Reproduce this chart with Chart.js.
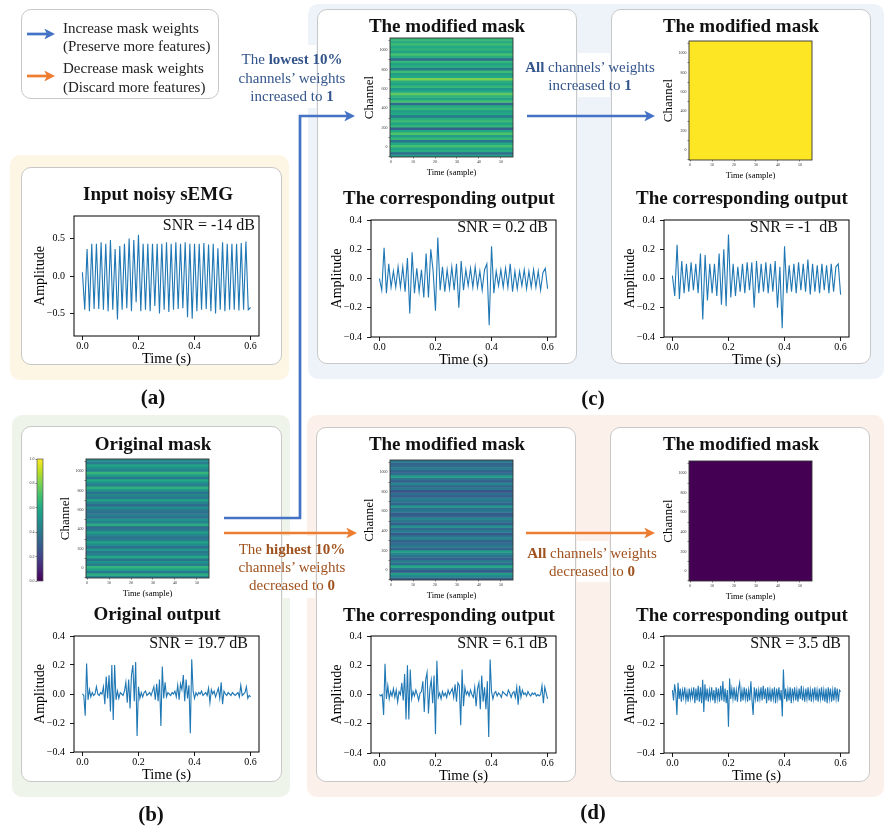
<!DOCTYPE html>
<html>
<head>
<meta charset="utf-8">
<script src="https://cdn.jsdelivr.net/npm/chart.js@4.4.1/dist/chart.umd.min.js"></script>
<style>
body { margin: 0; width: 886px; height: 829px; position: relative; overflow: hidden; background: #fff;
       font-family: "Liberation Serif", "Times New Roman", serif; color: #111; }
.abs { position: absolute; }
.panel { position: absolute; border-radius: 10px; }
.box { position: absolute; background: #fff; border: 1px solid #c8c8c8; border-radius: 10px; box-sizing: border-box; }
.patch { position: absolute; background: #fff; }
.t { position: absolute; transform: translate(-50%, -50%); white-space: nowrap; line-height: 1; }
.r { position: absolute; transform: translate(-100%, -50%); white-space: nowrap; line-height: 1; font-size: 16px; }
.title { font-weight: bold; font-size: 19px; }
.lab { font-weight: bold; font-size: 21px; }
.leg { position: absolute; font-size: 15px; white-space: nowrap; line-height: 1; transform: translateY(-50%); color: #222; }
.ann { font-size: 15px; text-align: center; }
.blue { color: #34558b; }
.orange { color: #a0521f; }
</style>
</head>
<body>

<!-- panel backgrounds -->
<div class="panel" style="left:10px;top:155px;width:279px;height:225px;background:#fdf6e5"></div>
<div class="panel" style="left:12px;top:415px;width:278px;height:382px;background:#eff4ea"></div>
<div class="panel" style="left:308px;top:4px;width:576px;height:375px;background:#eef3fa"></div>
<div class="panel" style="left:307px;top:415px;width:577px;height:382px;background:#fcf1ea"></div>

<!-- white backdrops behind the arrow notes -->
<div class="patch" style="left:295px;top:45px;width:21px;height:63px"></div>
<div class="patch" style="left:578px;top:53px;width:32px;height:44px"></div>
<div class="patch" style="left:283px;top:536px;width:32px;height:62px"></div>
<div class="patch" style="left:577px;top:541px;width:32px;height:41px"></div>

<!-- boxes -->
<div class="box" style="left:21px;top:9px;width:198px;height:90px"></div>
<div class="box" style="left:21px;top:167px;width:261px;height:198px"></div>
<div class="box" style="left:21px;top:426px;width:261px;height:356px"></div>
<div class="box" style="left:317px;top:9px;width:260px;height:355px"></div>
<div class="box" style="left:611px;top:9px;width:260px;height:355px"></div>
<div class="box" style="left:316px;top:427px;width:260px;height:355px"></div>
<div class="box" style="left:610px;top:427px;width:260px;height:355px"></div>

<div id="charts"></div>

<svg class="abs" style="left:0;top:0" width="886" height="829">
  <defs>
    <marker id="hb" markerWidth="4" markerHeight="4" refX="1" refY="2" orient="auto" markerUnits="strokeWidth">
      <path d="M0,0 L4,2 L0,4 L1,2 z" fill="#4472c4"/>
    </marker>
    <marker id="ho" markerWidth="4" markerHeight="4" refX="1" refY="2" orient="auto" markerUnits="strokeWidth">
      <path d="M0,0 L4,2 L0,4 L1,2 z" fill="#ed7d31"/>
    </marker>
  </defs>
  <g fill="none" stroke-width="2.7">
    <line x1="27" y1="34" x2="47" y2="34" stroke="#4472c4" marker-end="url(#hb)"/>
    <line x1="27" y1="76" x2="47" y2="76" stroke="#ed7d31" marker-end="url(#ho)"/>
    <polyline points="224,518 300,518 300,116 347,116" stroke="#4472c4" marker-end="url(#hb)"/>
    <line x1="224" y1="533" x2="349" y2="533" stroke="#ed7d31" marker-end="url(#ho)"/>
    <line x1="527" y1="116" x2="647" y2="116" stroke="#4472c4" marker-end="url(#hb)"/>
    <line x1="526" y1="533" x2="647" y2="533" stroke="#ed7d31" marker-end="url(#ho)"/>
  </g>
</svg>

<!-- legend -->
<div class="leg" style="left:63px;top:28px">Increase mask weights</div>
<div class="leg" style="left:63px;top:46px">(Preserve more features)</div>
<div class="leg" style="left:63px;top:68px">Decrease mask weights</div>
<div class="leg" style="left:63px;top:87px">(Discard more features)</div>

<!-- arrow notes -->
<div class="t ann blue" style="left:292px;top:78px;line-height:18.5px">The <b>lowest 10%</b><br>channels’ weights<br>increased to <b>1</b></div>
<div class="t ann blue" style="left:590px;top:76px;line-height:17.5px"><b>All</b> channels’ weights<br>increased to <b>1</b></div>
<div class="t ann orange" style="left:292px;top:567px;line-height:18px">The <b>highest 10%</b><br>channels’ weights<br>decreased to <b>0</b></div>
<div class="t ann orange" style="left:592px;top:562px;line-height:17.5px"><b>All</b> channels’ weights<br>decreased to <b>0</b></div>

<!-- titles -->
<div class="t title" style="left:158px;top:193px">Input noisy sEMG</div>
<div class="t title" style="left:447px;top:25px">The modified mask</div>
<div class="t title" style="left:741px;top:25px">The modified mask</div>
<div class="t title" style="left:449px;top:197px">The corresponding output</div>
<div class="t title" style="left:742px;top:197px">The corresponding output</div>
<div class="t title" style="left:153px;top:443px">Original mask</div>
<div class="t title" style="left:157px;top:613px">Original output</div>
<div class="t title" style="left:447px;top:443px">The modified mask</div>
<div class="t title" style="left:741px;top:443px">The modified mask</div>
<div class="t title" style="left:449px;top:614px">The corresponding output</div>
<div class="t title" style="left:742px;top:614px">The corresponding output</div>

<!-- SNR notes -->
<div class="r" style="left:255px;top:225px">SNR = -14 dB</div>
<div class="r" style="left:248px;top:643px">SNR = 19.7 dB</div>
<div class="r" style="left:548px;top:227px">SNR = 0.2 dB</div>
<div class="r" style="left:838px;top:227px">SNR = -1&nbsp; dB</div>
<div class="r" style="left:548px;top:643px">SNR = 6.1 dB</div>
<div class="r" style="left:841px;top:643px">SNR = 3.5 dB</div>

<!-- panel labels -->
<div class="t lab" style="left:153px;top:397px">(a)</div>
<div class="t lab" style="left:151px;top:814px">(b)</div>
<div class="t lab" style="left:593px;top:398px">(c)</div>
<div class="t lab" style="left:593px;top:812px">(d)</div>

<script>
// ---- data ----
const timeTicks = [0, 0.2, 0.4, 0.6];
const inputAmpTicks = [-0.5, 0, 0.5];
const outputAmpTicks = [-0.4, -0.2, 0, 0.2, 0.4];
const channelTicks = [0, 200, 400, 600, 800, 1000];
const sampleTicks = [0, 10, 20, 30, 40, 50];
const colorbarTicks = [0, 0.2, 0.4, 0.6, 0.8, 1.0];
const channelCount = 1024;
const sampleRange = [-0.5, 55.5];
const colorbarRange = [0, 1];

// sample spacing (s) of each traced signal
const stepCoarse = 0.6 / 72;
const stepMid = 0.005;
const stepFine = 0.004;

// (a) input noisy sEMG, stepCoarse
const inputNoisy = [
  0.05,-0.45,0.36,-0.47,0.43,-0.44,0.43,-0.44,0.45,-0.45,
  0.43,-0.47,0.48,-0.45,0.36,-0.58,0.40,-0.45,0.43,-0.43,
  0.50,-0.47,0.48,-0.35,0.55,-0.47,0.43,-0.45,0.43,-0.47,
  0.43,-0.40,0.43,-0.50,0.43,-0.45,0.45,-0.48,0.43,-0.45,
  0.45,-0.44,0.43,-0.43,0.45,-0.55,0.43,-0.57,0.43,-0.47,
  0.43,-0.45,0.44,-0.44,0.42,-0.47,0.43,-0.50,0.37,-0.45,
  0.45,-0.47,0.43,-0.45,0.43,-0.45,0.43,-0.46,0.44,-0.45,
  0.46,-0.45,-0.42
];

// (b) original output, stepMid
const outOriginal = [
  0.00,-0.01,-0.15,0.21,-0.04,0.03,-0.02,0.01,-0.01,0.00,
  0.05,0.00,-0.01,0.01,0.00,0.05,-0.07,0.12,-0.03,0.13,
  -0.12,0.20,-0.18,0.20,-0.04,0.02,-0.03,0.01,0.00,-0.01,
  0.02,0.08,-0.06,0.10,-0.10,0.13,0.20,-0.05,0.22,-0.29,
  0.05,-0.03,0.01,-0.02,0.01,0.02,-0.01,0.00,0.01,-0.01,
  0.02,0.05,-0.04,0.07,-0.05,0.10,-0.22,0.19,-0.03,0.08,
  -0.02,0.01,0.00,-0.01,0.01,0.00,0.02,-0.02,0.06,-0.04,
  0.07,0.03,0.13,-0.05,0.10,-0.03,0.06,-0.27,0.24,0.02,
  -0.03,0.01,-0.01,0.01,0.00,0.02,-0.01,0.00,0.01,-0.01,
  0.04,-0.06,0.03,0.00,0.02,-0.02,0.01,0.04,-0.03,0.08,
  -0.07,0.02,0.00,-0.01,0.01,0.00,-0.01,0.01,0.00,-0.01,
  0.00,0.01,-0.02,0.06,-0.01,0.00,0.01,0.05,-0.03,-0.01,
  -0.02
];

// (c) lowest 10% raised to 1, stepCoarse
const outLowestUp = [
  0.00,-0.08,0.21,-0.10,0.10,-0.06,0.05,-0.06,0.08,-0.06,
  0.08,-0.09,0.14,-0.24,0.18,-0.10,0.07,-0.09,0.06,-0.13,
  0.17,-0.13,0.20,0.05,-0.22,0.28,-0.08,0.08,-0.09,0.06,
  -0.07,0.08,-0.08,0.10,-0.20,0.12,-0.08,0.06,-0.05,0.07,
  -0.06,0.08,-0.06,0.05,-0.08,0.06,0.10,-0.32,0.22,-0.10,
  0.05,-0.05,0.06,-0.06,0.07,-0.06,0.10,-0.09,0.05,-0.07,
  0.05,-0.05,0.06,-0.07,0.05,-0.06,0.06,-0.06,0.05,-0.08,
  0.04,0.07,-0.07
];

// (c) all channels set to 1, stepCoarse
const outAllOnes = [
  0.02,-0.12,0.23,-0.14,0.12,-0.10,0.10,-0.09,0.11,-0.08,
  0.10,-0.10,0.17,-0.28,0.16,-0.15,0.10,-0.10,0.10,-0.12,
  0.17,-0.18,0.20,-0.19,0.30,-0.13,0.10,-0.12,0.08,-0.09,
  0.10,-0.10,0.11,-0.08,0.11,-0.20,0.12,-0.10,0.10,-0.09,
  0.11,-0.10,0.10,-0.09,0.12,-0.20,0.08,-0.34,0.22,-0.10,
  0.09,-0.09,0.10,-0.10,0.11,-0.08,0.10,-0.09,0.13,-0.11,
  0.10,-0.09,0.09,-0.10,0.10,-0.08,0.09,-0.10,0.10,-0.09,
  0.08,0.10,-0.11
];

// (d) highest 10% cut to 0, stepMid
const outHighestDown = [
  0.00,-0.01,0.00,-0.14,0.21,-0.03,0.06,-0.03,0.02,-0.01,
  0.04,-0.02,0.03,-0.05,0.02,0.00,0.08,-0.04,0.14,-0.17,
  0.20,-0.17,0.17,-0.03,0.02,-0.01,0.03,0.00,-0.04,0.01,
  0.02,0.09,-0.12,0.10,0.15,-0.13,0.04,0.10,-0.06,0.13,
  -0.27,0.23,-0.02,0.01,-0.03,0.02,-0.01,0.01,-0.02,0.03,
  0.00,0.02,0.04,-0.02,0.07,-0.05,0.08,0.06,-0.21,0.17,
  -0.08,0.05,0.00,0.02,-0.01,0.03,0.00,-0.02,0.05,-0.08,
  0.04,0.08,-0.10,0.13,-0.05,0.05,-0.10,0.09,-0.29,0.24,
  0.02,-0.03,0.01,0.02,-0.01,0.01,0.00,-0.02,0.02,0.01,
  0.00,-0.01,0.03,0.01,-0.02,0.01,0.02,-0.02,0.05,-0.07,
  0.06,-0.02,0.03,0.00,0.01,-0.01,0.02,0.00,-0.01,0.01,
  0.00,0.01,-0.01,0.00,-0.01,0.00,0.06,-0.06,0.05,0.01,
  -0.03
];

// (d) all channels set to 0, stepFine
const outAllZeros = [
  0.03,-0.04,0.07,0.01,-0.14,0.08,-0.03,0.04,-0.05,0.03,
  -0.02,0.05,-0.04,0.02,-0.05,0.04,-0.03,0.03,-0.02,0.05,
  -0.06,0.04,-0.04,0.06,-0.05,0.05,-0.06,0.10,-0.12,0.07,
  -0.04,0.04,-0.05,0.03,-0.03,0.05,-0.04,0.03,-0.06,0.05,
  -0.03,0.04,-0.05,0.06,-0.04,0.09,-0.05,0.04,-0.06,0.03,
  -0.22,0.11,-0.03,0.04,-0.03,0.05,-0.04,0.03,-0.05,0.04,
  0.08,-0.05,0.03,-0.04,0.05,-0.03,0.04,-0.05,0.03,-0.04,
  0.09,-0.04,-0.14,0.05,-0.03,0.04,-0.05,0.03,-0.03,0.05,
  -0.04,0.06,-0.03,0.04,-0.06,0.05,-0.04,0.03,-0.05,0.04,
  -0.03,0.05,-0.06,0.04,-0.03,0.05,-0.04,0.03,-0.15,0.17,
  -0.03,0.04,-0.05,0.03,-0.04,0.05,-0.06,0.04,-0.03,0.05,
  -0.04,0.03,-0.05,0.04,-0.03,0.06,-0.04,0.03,-0.05,0.04,
  -0.03,0.05,-0.04,0.03,-0.05,0.04,-0.03,0.05,-0.04,0.03,
  -0.05,0.04,-0.03,0.05,-0.04,0.03,-0.05,0.04,-0.06,0.05,
  -0.03,0.04,-0.05,0.03,-0.04,0.05,-0.03,0.04,-0.05,0.03,
  0.02
];

// mask stripe weights, bottom channel band first
const maskOriginal = [
  0.45,0.62,0.40,0.55,0.65,0.42,0.50,0.38,0.60,0.45,
  0.40,0.52,0.36,0.48,0.58,0.42,0.38,0.46,0.55,0.40,
  0.35,0.62,0.44,0.50,0.38,0.42,0.36,0.40,0.48,0.35,
  0.44,0.56,0.40,0.46,0.38,0.52,0.64,0.42,0.48,0.60,
  0.40,0.55,0.66,0.44,0.50,0.58,0.42,0.48
];
const maskLowestUp = [
  0.55,0.35,0.62,0.58,0.70,0.60,0.38,0.66,0.55,0.72,
  0.60,0.30,0.65,0.58,0.68,0.62,0.40,0.60,0.55,0.66,
  0.62,0.35,0.70,0.58,0.64,0.75,0.60,0.52,0.66,0.58,
  0.62,0.80,0.60,0.55,0.68,0.40,0.62,0.58,0.66,0.35,
  0.62,0.70,0.58,0.64,0.60,0.68,0.62,0.66
];
const maskHighestDown = [
  0.30,0.45,0.55,0.28,0.40,0.60,0.35,0.42,0.30,0.38,
  0.45,0.55,0.32,0.40,0.36,0.30,0.44,0.38,0.28,0.42,
  0.35,0.50,0.30,0.38,0.45,0.33,0.28,0.40,0.36,0.52,
  0.32,0.38,0.42,0.30,0.36,0.25,0.40,0.34,0.45,0.30,
  0.38,0.56,0.36,0.30,0.42,0.35,0.32,0.40
];
const maskAllOnes = [1];
const maskAllZeros = [0];

// ---- drawing ----
const viridisStops = ['#440154','#482475','#414487','#355f8d','#2a788e','#21918c',
                      '#22a884','#44bf70','#7ad151','#bddf26','#fde725'];

function hexRgb(h) {
  return [parseInt(h.slice(1, 3), 16), parseInt(h.slice(3, 5), 16), parseInt(h.slice(5, 7), 16)];
}
function viridis(v) {
  const p = Math.max(0, Math.min(1, v)) * (viridisStops.length - 1);
  const i = Math.min(Math.floor(p), viridisStops.length - 2);
  const f = p - i;
  const a = hexRgb(viridisStops[i]), b = hexRgb(viridisStops[i + 1]);
  const c = a.map((x, k) => Math.round(x + (b[k] - x) * f));
  return 'rgb(' + c.join(',') + ')';
}

Chart.defaults.font.family = '"Liberation Serif", "Times New Roman", serif';
Chart.defaults.color = '#000';

// full box around the plot area, like matplotlib spines
const frame = {
  id: 'frame',
  afterDraw(chart, args, opts) {
    const a = chart.chartArea, ctx = chart.ctx;
    ctx.save();
    ctx.strokeStyle = opts.color || '#000';
    ctx.lineWidth = opts.width || 1;
    ctx.strokeRect(a.left, a.top, a.right - a.left, a.bottom - a.top);
    ctx.restore();
  }
};

function fmt(v) {
  return (v < 0 ? '\u2212' : '') + Math.abs(v).toFixed(1);
}

function addCanvas(left, top, w, h) {
  const c = document.createElement('canvas');
  c.className = 'abs';
  c.width = w; c.height = h;
  c.style.left = left + 'px'; c.style.top = top + 'px';
  c.style.width = w + 'px'; c.style.height = h + 'px';
  document.getElementById('charts').appendChild(c);
  return c;
}

function signalChart(area, step, values, yMin, yMax, yTicks) {
  const [L, T, R, B] = area;
  const axW = 46, axH = 34, padT = 7, padR = 10;
  const c = addCanvas(L - axW, T - padT, R - L + axW + padR, B - T + padT + axH);
  const grid = {display: true, drawOnChartArea: false, drawTicks: true, tickLength: 4, color: '#000', lineWidth: 0.9};
  new Chart(c, {
    type: 'line',
    data: {datasets: [{
      data: values.map((v, i) => ({x: i * step, y: v})),
      borderColor: '#1f77b4', borderWidth: 1.1, pointRadius: 0, tension: 0, fill: false
    }]},
    options: {
      responsive: false, animation: false, events: [],
      layout: {padding: {left: 0, top: padT, right: padR, bottom: 0}},
      plugins: {legend: {display: false}, tooltip: {enabled: false}, frame: {color: '#000', width: 1}},
      scales: {
        x: {
          type: 'linear', min: -0.03, max: 0.63,
          afterBuildTicks: s => { s.ticks = timeTicks.map(v => ({value: v})); },
          afterFit: s => { s.height = axH; },
          grid: grid, border: {display: false},
          ticks: {font: {size: 10}, padding: 0, maxRotation: 0, autoSkip: false, callback: v => fmt(v)},
          title: {display: true, text: 'Time (s)', font: {size: 14.5}, padding: {top: 0, bottom: 2}}
        },
        y: {
          type: 'linear', min: yMin, max: yMax,
          afterBuildTicks: s => { s.ticks = yTicks.map(v => ({value: v})); },
          afterFit: s => { s.width = axW; },
          grid: grid, border: {display: false},
          ticks: {font: {size: 10}, padding: 5, autoSkip: false, callback: v => fmt(v)},
          title: {display: true, text: 'Amplitude', font: {size: 14}, padding: {top: 3.5, bottom: 0}}
        }
      }
    },
    plugins: [frame]
  });
}

function maskChart(area, stripes) {
  const [L, T, R, B] = area;
  const axW = 30, axH = 23, padT = 4, padR = 6;
  const c = addCanvas(L - axW, T - padT, R - L + axW + padR, B - T + padT + axH);
  const grid = {display: true, drawOnChartArea: false, drawTicks: true, tickLength: 1.5, color: '#333', lineWidth: 0.6};
  new Chart(c, {
    type: 'bar',
    data: {
      labels: stripes.map((_, i) => i),
      datasets: [{
        data: stripes.map(() => sampleRange),
        backgroundColor: stripes.map(viridis),
        yAxisID: 'yc', barPercentage: 1, categoryPercentage: 1, borderWidth: 0
      }]
    },
    options: {
      indexAxis: 'y', responsive: false, animation: false, events: [],
      layout: {padding: {left: 0, top: padT, right: padR, bottom: 0}},
      plugins: {legend: {display: false}, tooltip: {enabled: false}, frame: {color: '#333', width: 0.9}},
      scales: {
        x: {
          type: 'linear', min: sampleRange[0], max: sampleRange[1],
          afterBuildTicks: s => { s.ticks = sampleTicks.map(v => ({value: v})); },
          afterFit: s => { s.height = axH; },
          grid: grid, border: {display: false},
          ticks: {font: {size: 4}, padding: 1, maxRotation: 0, autoSkip: false, color: '#333', callback: v => String(v)},
          title: {display: true, text: 'Time (sample)', font: {size: 8.5}, padding: {top: 0, bottom: 2}}
        },
        yc: {type: 'category', display: false, reverse: true, offset: true},
        y: {
          type: 'linear', position: 'left', min: 0, max: channelCount,
          afterBuildTicks: s => { s.ticks = channelTicks.map(v => ({value: v})); },
          afterFit: s => { s.width = axW; },
          grid: grid, border: {display: false},
          ticks: {font: {size: 4}, padding: 1, autoSkip: false, color: '#333', callback: v => String(v)},
          title: {display: true, text: 'Channel', font: {size: 13}, padding: {top: 2, bottom: 0}}
        }
      }
    },
    plugins: [frame]
  });
}

function colorbarChart(area) {
  const [L, T, R, B] = area;
  const axW = 14, padT = 4, padB = 4, padR = 3;
  const c = addCanvas(L - axW, T - padT, R - L + axW + padR, B - T + padT + padB);
  new Chart(c, {
    type: 'bar',
    data: {
      labels: ['weight'],
      datasets: [{
        data: [colorbarRange],
        barPercentage: 1, categoryPercentage: 1, borderWidth: 0,
        backgroundColor: ctx => {
          const a = ctx.chart.chartArea;
          if (!a) return viridisStops[5];
          const g = ctx.chart.ctx.createLinearGradient(0, a.bottom, 0, a.top);
          viridisStops.forEach((s, i) => g.addColorStop(i / (viridisStops.length - 1), s));
          return g;
        }
      }]
    },
    options: {
      responsive: false, animation: false, events: [],
      layout: {padding: {left: 0, top: padT, right: padR, bottom: padB}},
      plugins: {legend: {display: false}, tooltip: {enabled: false}, frame: {color: '#555', width: 0.7}},
      scales: {
        x: {display: false},
        y: {
          min: colorbarRange[0], max: colorbarRange[1],
          afterBuildTicks: s => { s.ticks = colorbarTicks.map(v => ({value: v})); },
          afterFit: s => { s.width = axW; },
          grid: {display: true, drawOnChartArea: false, drawTicks: true, tickLength: 1.5, color: '#333', lineWidth: 0.6},
          border: {display: false},
          ticks: {font: {size: 4}, padding: 1, autoSkip: false, color: '#333', callback: v => v.toFixed(1)}
        }
      }
    },
    plugins: [frame]
  });
}

// signals: plot area [left, top, right, bottom] on the page
signalChart([74, 212, 259, 336], stepCoarse, inputNoisy, -0.8, 0.8, inputAmpTicks);
signalChart([74, 632, 259, 752], stepMid, outOriginal, -0.4, 0.4, outputAmpTicks);
signalChart([371, 216, 556, 337], stepCoarse, outLowestUp, -0.4, 0.4, outputAmpTicks);
signalChart([664, 216, 849, 337], stepCoarse, outAllOnes, -0.4, 0.4, outputAmpTicks);
signalChart([371, 632, 556, 753], stepMid, outHighestDown, -0.4, 0.4, outputAmpTicks);
signalChart([664, 632, 849, 753], stepFine, outAllZeros, -0.4, 0.4, outputAmpTicks);

// masks
maskChart([86, 459, 209, 578], maskOriginal);
maskChart([390, 38, 513, 157], maskLowestUp);
maskChart([689, 41, 812, 160], maskAllOnes);
maskChart([390, 460, 513, 580], maskHighestDown);
maskChart([689, 461, 812, 581], maskAllZeros);

colorbarChart([37, 459, 43, 581]);
</script>
</body>
</html>
